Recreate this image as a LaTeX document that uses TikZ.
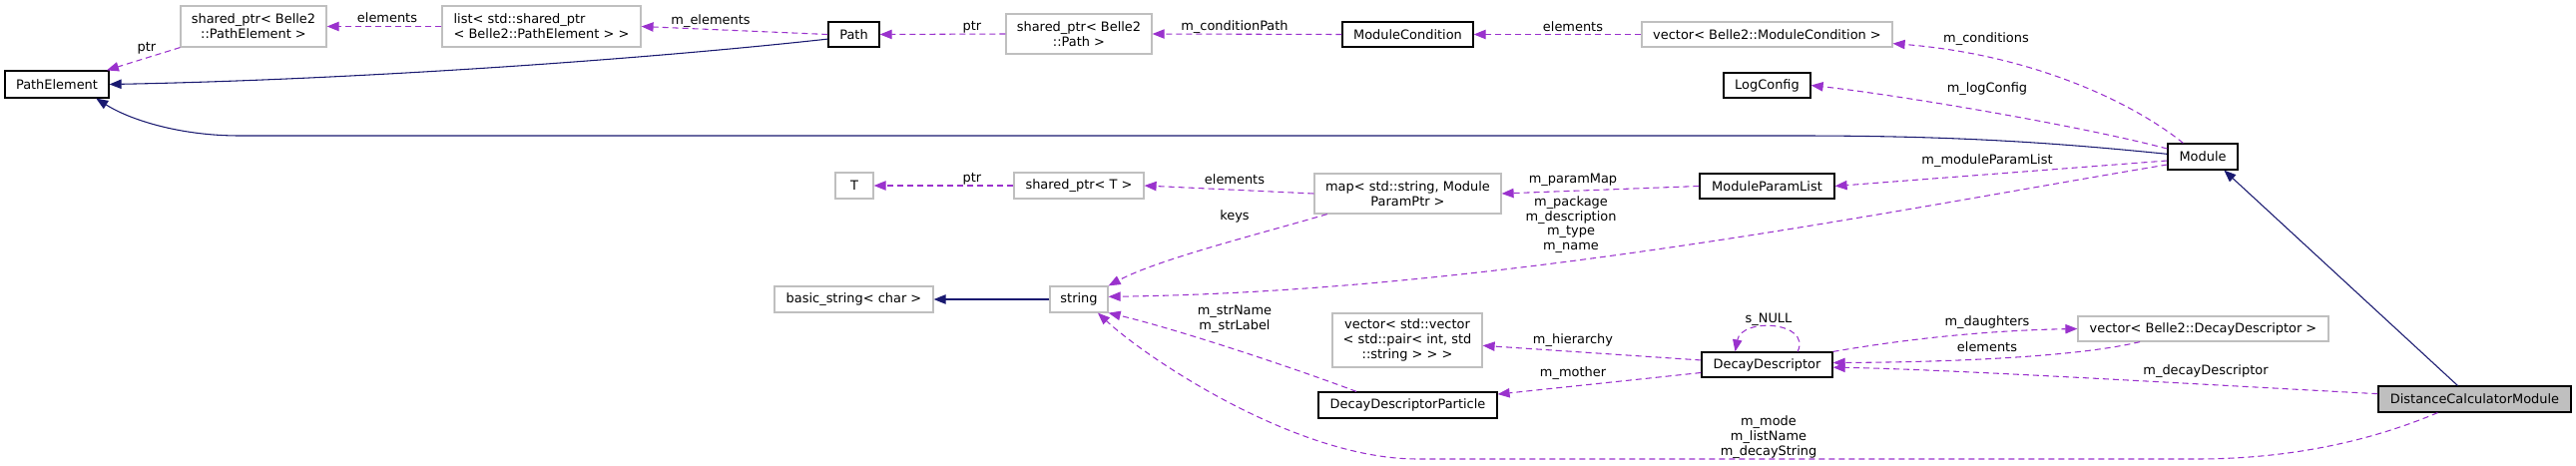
\documentclass[tikz,border=0pt]{standalone}
\usepackage{fontspec}
\setmainfont{DejaVu Sans}
\usetikzlibrary{arrows.meta}
\definecolor{memberpurple}{HTML}{9A32CD}
\definecolor{inheritblue}{HTML}{191970}
\definecolor{extgray}{HTML}{BFBFBF}

\begin{document}
\begin{tikzpicture}[x=0.75pt, y=-0.75pt, >={Triangle[length=9pt,width=7pt]},
		every node/.style={font=\fontsize{9.7}{11}\selectfont, inner sep=0pt},
		sz/.style 2 args={minimum width=#1*0.75pt, minimum height=#2*0.75pt},
		cls/.style={draw=black, line width=0.9pt, fill=white},
		ext/.style={draw=extgray, line width=0.9pt, fill=white},
		this/.style={draw=black, line width=0.9pt, fill=extgray},
		member/.style={->, draw=memberpurple, line width=0.8pt, dash pattern=on 4.5pt off 3pt},
		inherit/.style={->, draw=inheritblue, line width=0.8pt},
		lbl/.style={align=center}]
		\useasboundingbox (0,0) rectangle (2581,467);

		\node[cls, sz={104}{27}] (pathElement) at (57,84.5) {PathElement};
		\node[ext, sz={146}{41}, align=center] (spPathElement) at (254,26.5) {shared\_ptr< Belle2\\::PathElement >};
		\node[ext, sz={199}{41}, align=left] (listPathElement) at (542.5,26.5) {list< std::shared\_ptr\\< Belle2::PathElement > >};
		\node[cls, sz={51}{25}] (path) at (855.5,34.5) {Path};
		\node[ext, sz={146}{40}, align=center] (spPath) at (1081,34) {shared\_ptr< Belle2\\::Path >};
		\node[cls, sz={131}{25}] (moduleCondition) at (1410.5,34.5) {ModuleCondition};
		\node[ext, sz={251}{25}] (vecCondition) at (1770.5,34.5) {vector< Belle2::ModuleCondition >};
		\node[cls, sz={87}{25}] (logConfig) at (1770.5,85.5) {LogConfig};
		\node[cls, sz={70}{26}] (module) at (2207,157) {Module};
		\node[cls, sz={135}{25}] (paramList) at (1770.5,186.5) {ModuleParamList};
		\node[ext, sz={187}{40}, align=center] (paramMap) at (1410.5,194) {map< std::string, Module\\ParamPtr >};
		\node[ext, sz={130}{26}] (spT) at (1081,186) {shared\_ptr< T >};
		\node[ext, sz={38}{26}] (tee) at (856,186) {T};
		\node[ext, sz={159}{26}] (basicString) at (855.5,300) {basic\_string< char >};
		\node[ext, sz={58}{26}] (string) at (1081,300) {string};
		\node[ext, sz={150}{54}, align=center] (vecHierarchy) at (1410,341) {vector< std::vector\\< std::pair< int, std\\::string > > >};
		\node[cls, sz={131}{25}] (decayDescriptor) at (1770.5,365.5) {DecayDescriptor};
		\node[cls, sz={179}{26}] (descriptorParticle) at (1410.5,406) {DecayDescriptorParticle};
		\node[ext, sz={251}{25}] (vecDescriptor) at (2207.5,329.5) {vector< Belle2::DecayDescriptor >};
		\node[this, sz={193}{26}] (distanceModule) at (2479.5,400) {DistanceCalculatorModule};

		\draw[member] (listPathElement.west) -- (spPathElement.east);
		\draw[member] (spPathElement.south west) -- ([xshift=-2pt]pathElement.north east);
		\draw[member] (path.west) -- (listPathElement.east);
		\draw[inherit] (path.190) .. controls (640,60) and (350,80) .. (pathElement.east);
		\draw[member] (spPath.west) -- (path.east);
		\draw[member] (moduleCondition.west) -- (spPath.east);
		\draw[member] (vecCondition.west) -- (moduleCondition.east);
		\draw[member] ([xshift=12pt]module.north west) .. controls (2140,105) and (2040,55) .. ([yshift=3pt]vecCondition.south east);
		\draw[member] ([yshift=6pt]module.west) .. controls (2080,125) and (1900,95) .. (logConfig.east);
		\draw[inherit] ([yshift=2pt]module.west) .. controls (2050,142) and (1950,136) .. (1800,136) -- (240,136) .. controls (180,136) and (130,120) .. ([xshift=-10pt]pathElement.south east);
		\draw[member] ([yshift=-3pt]module.west) -- (paramList.east);
		\draw[member] ([yshift=-6pt]module.west) .. controls (1900,210) and (1500,292) .. ([yshift=2pt]string.east);
		\draw[member] (paramList.west) -- (paramMap.east);
		\draw[member] (paramMap.west) -- (spT.east);
		\draw[member] (spT.west) -- (tee.east);
		\draw[member] ([xshift=10pt]paramMap.south west) .. controls (1260,235) and (1160,260) .. (string.north east);
		\draw[inherit] (string.west) -- (basicString.east);
		\draw[member] ([xshift=29pt]descriptorParticle.north west) .. controls (1300,370) and (1180,330) .. (string.south east);
		\draw[member] ([yshift=3.4pt]decayDescriptor.west) -- ([yshift=-4pt]vecHierarchy.east);
		\draw[member] ([yshift=-6pt]decayDescriptor.west) -- ([yshift=-2pt]descriptorParticle.north east);
		\draw[member] ([xshift=23pt]decayDescriptor.north) .. controls (1815,322) and (1745,318) .. ([xshift=-24pt]decayDescriptor.north);
		\draw[member] (decayDescriptor.north east) .. controls (1920,338) and (2000,331) .. (vecDescriptor.west);
		\draw[member] ([xshift=47pt]vecDescriptor.south west) .. controls (2080,358) and (1950,363) .. ([yshift=1.5pt]decayDescriptor.east);
		\draw[member] ([yshift=4pt]distanceModule.west) .. controls (2200,385) and (1950,370) .. ([yshift=-2pt]decayDescriptor.east);
		\draw[member] ([xshift=45pt]distanceModule.south west) .. controls (2380,440) and (2300,460) .. (2200,460) -- (1420,460) .. controls (1300,460) and (1150,360) .. ([xshift=-8pt]string.south east);
		\draw[inherit] ([xshift=60pt]distanceModule.north west) -- ([xshift=16pt]module.south);

		\node[lbl] (lElements) at (388,18) {elements};
		\node[lbl] (lPtr) at (147,48) {ptr};
		\node[lbl] (lMElements) at (712,21) {m\_elements};
		\node[lbl] (lPathPtr) at (974,27) {ptr};
		\node[lbl] (lConditionPath) at (1237,27) {m\_conditionPath};
		\node[lbl] (lCondElements) at (1576,27) {elements};
		\node[lbl] (lConditions) at (1990,39) {m\_conditions};
		\node[lbl] (lLogConfig) at (1991,89) {m\_logConfig};
		\node[lbl] (lParamList) at (1991,161) {m\_moduleParamList};
		\node[lbl] (lParamMap) at (1576,180) {m\_paramMap};
		\node[lbl] (lMapElements) at (1237,180) {elements};
		\node[lbl] (lTPtr) at (974,179) {ptr};
		\node[lbl] (lKeys) at (1237,217) {keys};
		\node[lbl] (lModuleStrings) at (1574,225) {m\_package\\m\_description\\m\_type\\m\_name};
		\node[lbl] (lStrName) at (1237,320) {m\_strName\\m\_strLabel};
		\node[lbl] (lNull) at (1772,320) {s\_NULL};
		\node[lbl] (lHierarchy) at (1576,341) {m\_hierarchy};
		\node[lbl] (lMother) at (1576,374) {m\_mother};
		\node[lbl] (lDaughters) at (1991,323) {m\_daughters};
		\node[lbl] (lDescElements) at (1991,348) {elements};
		\node[lbl] (lDecayDescriptor) at (2210,372) {m\_decayDescriptor};
		\node[lbl] (lModeStrings) at (1772,438) {m\_mode\\m\_listName\\m\_decayString};
	\end{tikzpicture}
\end{document}
